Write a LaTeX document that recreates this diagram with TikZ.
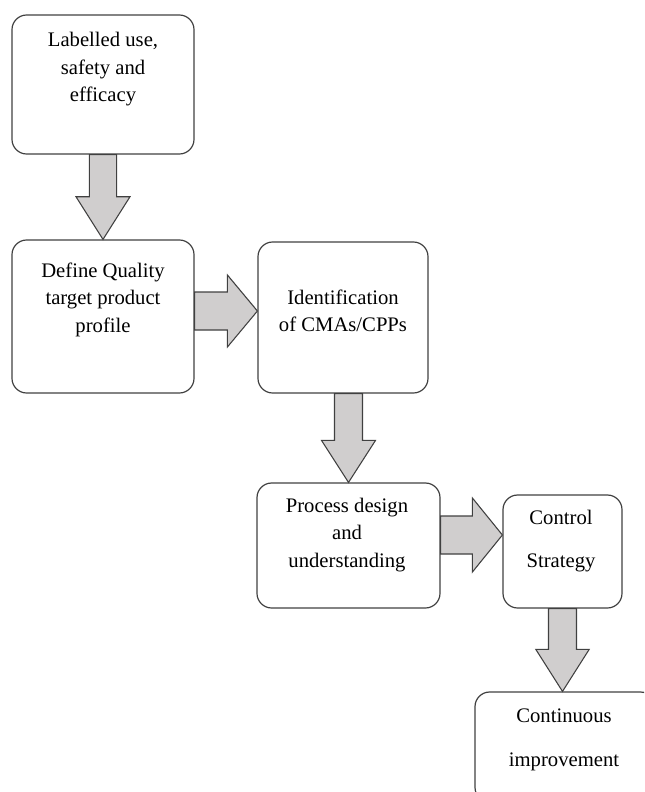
\documentclass[tikz,border=0pt]{standalone}
\usepackage{fontspec}
\setmainfont{Liberation Serif}
\usepackage{tikz}
\usetikzlibrary{calc, positioning}
\definecolor{arrowfill}{RGB}{208,206,206}
\definecolor{edgegray}{RGB}{64,64,64}

\begin{document}
\begin{tikzpicture}[x=0.75pt, y=-0.75pt,
			box/.style={draw=edgegray, line width=0.9pt, rounded corners=11pt, inner sep=0pt},
			txt/.style={align=center, inner sep=0pt, font=\fontsize{15.5}{20.6}\selectfont},
			fatarrow/.style n args={3}{draw=edgegray, fill=arrowfill, line width=0.8pt,
				to path={let \p1=(\tikztostart), \p2=(\tikztotarget), \p3=($(\p2)!#2!(\p1)$) in
					($(\p1)!#1!90:(\p2)$) -- ($(\p3)!#1!90:(\p2)$) -- ($(\p3)!#3!90:(\p2)$) -- (\p2)
					-- ($(\p3)!#3!-90:(\p2)$) -- ($(\p3)!#1!-90:(\p2)$) -- ($(\p1)!#1!-90:(\p2)$) -- cycle}}]
			
			\useasboundingbox (0,0) rectangle (644,792);
			\clip (0,0) rectangle (644,792);
			
			\node[box, minimum width=136.5pt, minimum height=104.25pt] (b1) at (103,84.5) {};
			\node[box, minimum width=136.5pt, minimum height=114.75pt] (b2) at (103,316.5) {};
			\node[box, minimum width=127.5pt, minimum height=113.25pt] (b3) at (343,317.5) {};
			\node[box, minimum width=137.25pt, minimum height=93.75pt] (b4) at (348.5,545.5) {};
			\node[box, minimum width=89.25pt, minimum height=84.75pt] (b5) at (562.5,551.5) {};
			\node[box, minimum width=135pt, minimum height=82.5pt] (b6) at (565,747) {};
			
			\node[txt] (t1) at (103,69.5) {Labelled use,\\safety and\\efficacy};
			\node[txt] (t2) at (103,299.5) {Define Quality\\target product\\profile};
			\node[txt] (t3) at (343,311) {Identification\\of CMAs/CPPs};
			\node[txt] (t4) at (347,535) {Process design\\and\\understanding};
			\node[txt] (t5) at (561,541) {Control\\[11pt]Strategy};
			\node[txt] (t6) at (564,740) {Continuous\\[12.4pt]improvement};
			
			\coordinate (m2) at (0,311);
			\draw[fatarrow={10.2pt}{32pt}{20.25pt}] (b1.south) to (b2.north);
			\draw[fatarrow={14.25pt}{22.5pt}{27pt}] (b2.east |- m2) to (b3.west |- m2);
			\draw[fatarrow={10.5pt}{31.5pt}{20.25pt}] (b4.north |- b3.south) to (b4.north);
			\draw[fatarrow={14.25pt}{22.5pt}{27.75pt}] (b4.east |- t4) to (b5.west |- t4);
			\draw[fatarrow={10.5pt}{31.5pt}{20pt}] (b5.south) to (b5.south |- b6.north);
		\end{tikzpicture}
\end{document}
